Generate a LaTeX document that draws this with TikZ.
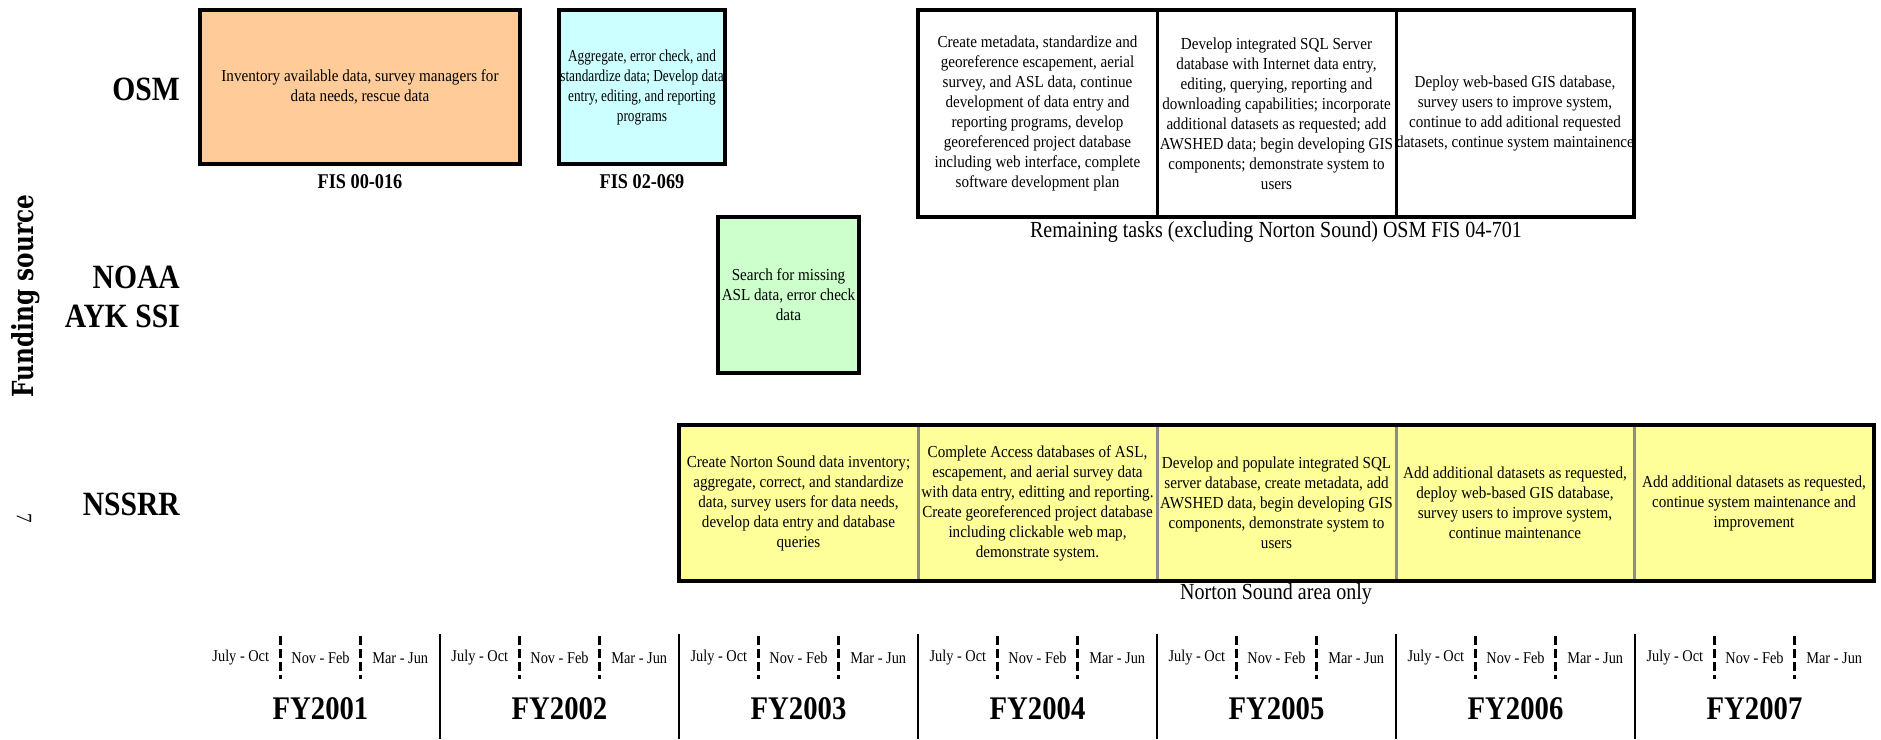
\documentclass[tikz,border=0pt]{standalone}
\usepackage{fontspec}
\setmainfont{Liberation Serif}[FakeStretch=0.87]
\newfontfamily\boxfont{Liberation Serif}[FakeStretch=0.9]
\newfontfamily\narrowboxfont{Liberation Serif}[FakeStretch=0.79]
\newfontfamily\fundfont{DejaVu Serif}[FakeStretch=0.8]
\definecolor{orangefill}{HTML}{FFCC99}
\definecolor{cyanfill}{HTML}{CCFFFF}
\definecolor{greenfill}{HTML}{CCFFCC}
\definecolor{yellowfill}{HTML}{FFFF99}
\definecolor{divgray}{HTML}{8C8C8C}
\tikzset{
  taskbox/.style={rectangle, anchor=north west, inner sep=0pt, outer sep=0pt, align=center,
    font=\boxfont\fontsize{16.8}{20}\selectfont, line width=3.5pt},
  fislabel/.style={font=\bfseries\fontsize{21}{21}\selectfont, inner sep=0pt},
  notelabel/.style={font=\fontsize{23}{23}\selectfont, inner sep=0pt},
  srclabel/.style={font=\bfseries\fontsize{34}{38}\selectfont, inner sep=0pt, anchor=east, align=right},
  monthlabel/.style={font=\fontsize{16.5}{17}\selectfont, inner sep=0pt},
  fylabel/.style={font=\bfseries\fontsize{33}{33}\selectfont, inner sep=0pt},
  yearline/.style={line width=2.6pt, black},
  dashline/.style={line width=2.6pt, black, dash pattern=on 9pt off 4pt},
  cellline/.style={line width=3pt},
}
\begin{document}
\begin{tikzpicture}[x=1pt,y=-1pt]
\useasboundingbox (0,0) rectangle (1881,739);

% ---- left labels
\node[rotate=90, inner sep=0pt, font=\fundfont\bfseries\fontsize{29}{29}\selectfont] (fund) at (26,296) {Funding source};
\node[rotate=-90, inner sep=0pt, font=\fontsize{22}{22}\selectfont] (pagenum) at (24,518) {7};
\node[srclabel] (osm) at (180,89) {OSM};
\node[srclabel] (noaa) at (180,277) {NOAA};
\node[srclabel] (ayk) at (180,316) {AYK SSI};
\node[srclabel] (nssrr) at (180,504) {NSSRR};

% ---- OSM row
\node[taskbox, draw=black, fill=orangefill, minimum width=320pt, minimum height=154pt] (a) at (200,10)
  {Inventory available data, survey managers for\\data needs, rescue data};
\node[fislabel] (fisa) at (360,182) {FIS 00-016};
\node[taskbox, draw=black, fill=cyanfill, minimum width=166pt, minimum height=154pt,
      font=\narrowboxfont\fontsize{16.8}{20}\selectfont] (b) at (559,10)
  {Aggregate, error check, and\\standardize data; Develop data\\entry, editing, and reporting\\programs};
\node[fislabel] (fisb) at (642,182) {FIS 02-069};

\node[taskbox, minimum width=239pt, minimum height=207pt] (c1) at (918,10)
  {Create metadata, standardize and\\georeference escapement, aerial\\survey, and ASL data, continue\\development of data entry and\\reporting programs, develop\\georeferenced project database\\including web interface, complete\\software development plan};
\node[taskbox, minimum width=239pt, minimum height=207pt] (c2) at (1157,10)
  {Develop integrated SQL Server\\database with Internet data entry,\\editing, querying, reporting and\\downloading capabilities; incorporate\\additional datasets as requested; add\\AWSHED data; begin developing GIS\\components; demonstrate system to\\users};
\node[taskbox, minimum width=238pt, minimum height=207pt] (c3) at (1396,10)
  {Deploy web-based GIS database,\\survey users to improve system,\\continue to add aditional requested\\datasets, continue system maintainence};
\draw[line width=3.5pt] (c1.north west) rectangle (c3.south east);
\draw[cellline] (c1.north east) -- (c1.south east);
\draw[cellline] (c2.north east) -- (c2.south east);
\node[notelabel] (rem) at (1276,232) {Remaining tasks (excluding Norton Sound) OSM FIS 04-701};

% ---- NOAA row
\node[taskbox, draw=black, fill=greenfill, minimum width=141pt, minimum height=156pt] (d) at (718,217)
  {Search for missing\\ASL data, error check\\data};

% ---- NSSRR row
\node[taskbox, fill=yellowfill, minimum width=239pt, minimum height=156pt] (e1) at (679,425)
  {Create Norton Sound data inventory;\\aggregate, correct, and standardize\\data, survey users for data needs,\\develop data entry and database\\queries};
\node[taskbox, fill=yellowfill, minimum width=239pt, minimum height=156pt] (e2) at (918,425)
  {Complete Access databases of ASL,\\escapement, and aerial survey data\\with data entry, editting and reporting.\\Create georeferenced project database\\including clickable web map,\\demonstrate system.};
\node[taskbox, fill=yellowfill, minimum width=239pt, minimum height=156pt] (e3) at (1157,425)
  {Develop and populate integrated SQL\\server database, create metadata, add\\AWSHED data, begin developing GIS\\components, demonstrate system to\\users};
\node[taskbox, fill=yellowfill, minimum width=238pt, minimum height=156pt] (e4) at (1396,425)
  {Add additional datasets as requested,\\deploy web-based GIS database,\\survey users to improve system,\\continue maintenance};
\node[taskbox, fill=yellowfill, minimum width=240pt, minimum height=156pt] (e5) at (1634,425)
  {Add additional datasets as requested,\\continue system maintenance and\\improvement};
\foreach \c in {e1,e2,e3,e4}
  \draw[cellline, divgray] (\c.north east) -- (\c.south east);
\draw[line width=3.5pt] (e1.north west) rectangle (e5.south east);
\node[notelabel] (nso) at (1276,594) {Norton Sound area only};

% ---- timeline
\foreach \i/\yr in {0/2001,1/2002,2/2003,3/2004,4/2005,5/2006,6/2007} {
  \pgfmathsetmacro\xa{201+239*\i}
  \node[fylabel] (fy\yr) at (\xa+119.5,709) {FY\yr};
  \node[monthlabel] (m\yr a) at (\xa+39.8,658) {July - Oct};
  \node[monthlabel] (m\yr b) at (\xa+119.5,658) {Nov - Feb};
  \node[monthlabel] (m\yr c) at (\xa+199.2,658) {Mar - Jun};
  \draw[dashline] (\xa+79.7,636) -- (\xa+79.7,679);
  \draw[dashline] (\xa+159.3,636) -- (\xa+159.3,679);
}
\foreach \x in {440,679,918,1157,1396,1635}
  \draw[yearline] (\x,634) -- (\x,739);
\end{tikzpicture}
\end{document}
